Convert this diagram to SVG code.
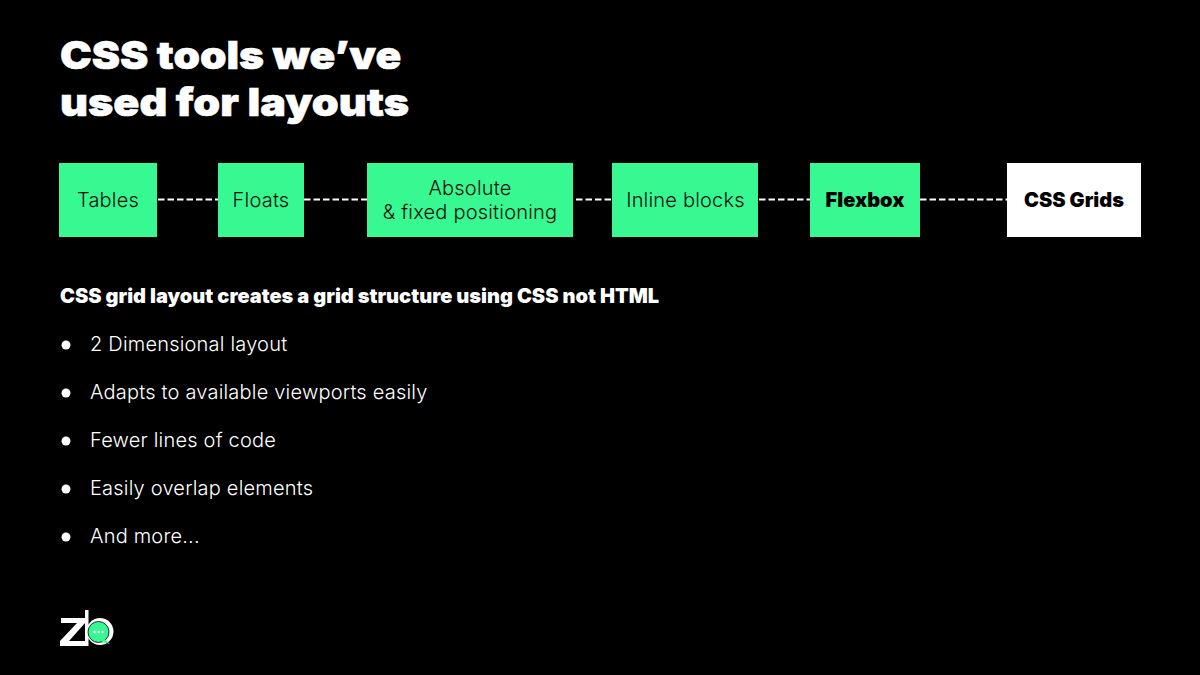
<svg xmlns="http://www.w3.org/2000/svg" width="1200" height="675" viewBox="0 0 1200 675">
<style>
text{font-family:Inter,"Noto Sans",sans-serif}
.t{font-size:39px;font-weight:900;fill:#fff;stroke:#fff;stroke-width:.6}
.n{font-size:20px;font-weight:300;letter-spacing:.2px;fill:#06140d;text-anchor:middle}
.b{font-weight:900;letter-spacing:0;fill:#000}
.g{fill:#38f892}
.l{font-size:20px;font-weight:300;letter-spacing:.2px;fill:#fff}
.c{stroke:#fff;stroke-width:2;stroke-dasharray:6.500 3;fill:none}
</style>
<rect width="1200" height="675" fill="#000"/>
<text class="t" transform="translate(60 69) scale(1.09 1)">CSS tools we’ve</text>
<text class="t" transform="translate(60 116) scale(1.105 1)">used for layouts</text>
<g id="connectors">
<path class="c" d="M158 199.500H218"/>
<path class="c" d="M304 199.500H367"/>
<path class="c" d="M576 199.500H612"/>
<path class="c" d="M759 199.500H810"/>
<path class="c" d="M920 199.500H1007"/>
</g>
<g id="tables"><rect class="g" x="59" y="163" width="98" height="74"/><text class="n" x="108" y="206.500">Tables</text></g>
<g id="floats"><rect class="g" x="218" y="163" width="86" height="74"/><text class="n" x="261" y="206.500">Floats</text></g>
<g id="absolute"><rect class="g" x="367" y="163" width="206" height="74"/><text class="n" x="470" y="195">Absolute</text><text class="n" x="470" y="219">&amp; fixed positioning</text></g>
<g id="inline"><rect class="g" x="612" y="163" width="146" height="74"/><text class="n" x="685.500" y="206.500">Inline blocks</text></g>
<g id="flexbox"><rect class="g" x="810" y="163" width="110" height="74"/><text class="n b" x="865" y="206.500">Flexbox</text></g>
<g id="cssgrids"><rect x="1007" y="163" width="134" height="74" fill="#fff"/><text class="n b" x="1074" y="206.500">CSS Grids</text></g>
<text x="60" y="303" font-weight="900" font-size="20" fill="#fff">CSS grid layout creates a grid structure using CSS not HTML</text>
<g fill="#fff">
<circle cx="66" cy="345" r="4.500"/><circle cx="66" cy="393" r="4.500"/><circle cx="66" cy="441" r="4.500"/><circle cx="66" cy="489" r="4.500"/><circle cx="66" cy="537" r="4.500"/>
</g>
<text class="l" x="90" y="351">2 Dimensional layout</text>
<text class="l" x="90" y="399">Adapts to available viewports easily</text>
<text class="l" x="90" y="447">Fewer lines of code</text>
<text class="l" x="90" y="495">Easily overlap elements</text>
<text class="l" x="90" y="543">And more...</text>
<g id="logo">
<path d="M61 618H85V623L69 641H85V646H60V641L77 623H61Z" fill="#fff"/>
<rect x="85" y="610" width="3.500" height="36" fill="#fff"/>
<circle cx="100" cy="631.500" r="13.500" fill="#fff"/>
<circle cx="98.500" cy="632" r="10.500" fill="#38f892" stroke="#000" stroke-width=".8"/>
<path d="M103 638L110 644L102 642Z" fill="#38f892"/>
<circle cx="94.500" cy="632" r="1.200" fill="#fff"/><circle cx="98.500" cy="632" r="1.200" fill="#fff"/><circle cx="102.500" cy="632" r="1.200" fill="#fff"/>
</g>
</svg>
